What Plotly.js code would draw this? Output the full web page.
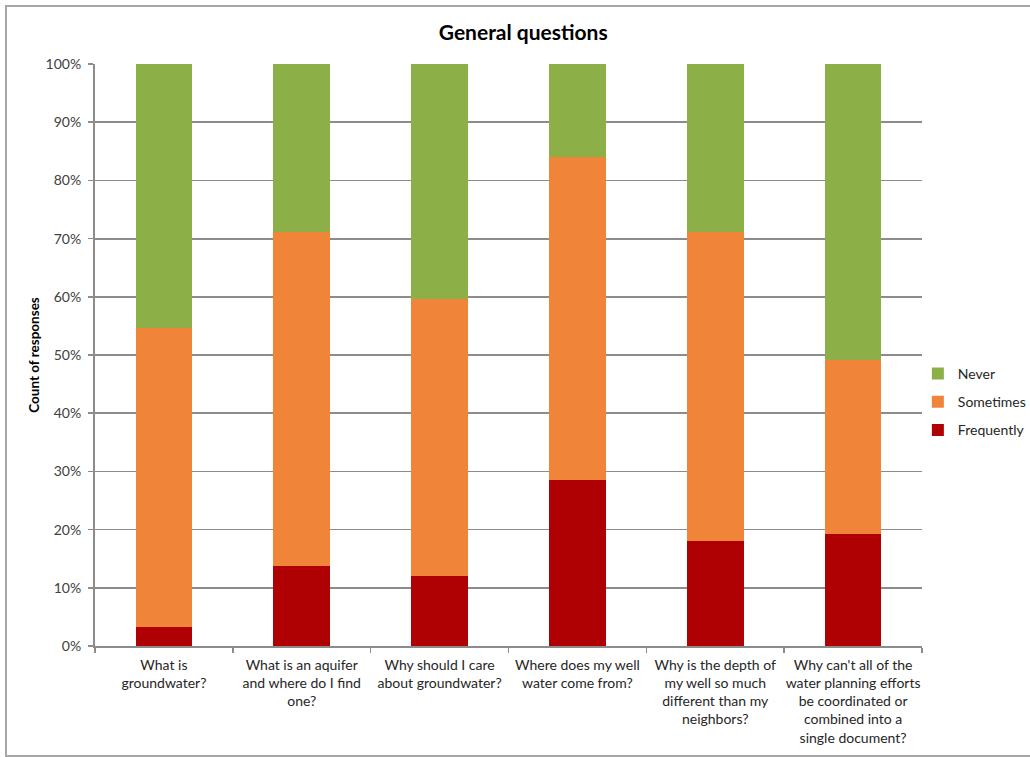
<!DOCTYPE html>
<html>
<head>
<meta charset="utf-8">
<script src="https://cdn.plot.ly/plotly-3.0.1.min.js"></script>
<style>
  html, body { margin: 0; padding: 0; background: #ffffff; }
  #wrap { position: relative; width: 1030px; height: 757px; }
  #chart { position: absolute; left: 0; top: 0; width: 1030px; height: 757px; }
  #frame { position: absolute; left: 5px; top: 5px; width: 1040px; height: 748px;
           border: 2px solid #a6a6a6; pointer-events: none; }
</style>
</head>
<body>
<div id="wrap">
  <div id="chart"></div>
  <div id="frame"></div>
</div>
<script>
// Survey questions (x categories), shown with manual line breaks
const questions = [
  "What is<br>groundwater?",
  "What is an aquifer<br>and where do I find<br>one?",
  "Why should I care<br>about groundwater?",
  "Where does my well<br>water come from?",
  "Why is the depth of<br>my well so much<br>different than my<br>neighbors?",
  "Why can't all of the<br>water planning efforts<br>be coordinated or<br>combined into a<br>single document?"
];

// Share of responses per answer (percent of each question's responses)
const frequently = [3.3, 13.7, 12.0, 28.5, 18.0, 19.2];
const sometimes  = [51.3, 57.4, 47.6, 55.6, 53.1, 29.9];
const never      = [45.4, 28.9, 40.4, 15.9, 28.9, 50.9];

const yTicks = [0, 10, 20, 30, 40, 50, 60, 70, 80, 90, 100];

const FONT = "Lato, 'Open Sans', sans-serif";

function series(name, values, color, group, rank) {
  return {
    type: "bar",
    name: name,
    x: questions,
    y: values,
    marker: { color: color, line: { width: 0 } },
    legendgroup: group,
    legendrank: rank,
    hoverinfo: "skip"
  };
}

// Stacked bottom to top; legend lists the top segment first
const data = [
  series("Frequently", frequently, "#AF0004", "g1", 3),
  series("Sometimes", sometimes, "#F0853A", "g2", 2),
  series("Never", never, "#8CB047", "g3", 1)
];

const layout = {
  width: 1030,
  height: 757,
  paper_bgcolor: "#ffffff",
  plot_bgcolor: "#ffffff",
  margin: { l: 95, r: 108, t: 64, b: 111, pad: 0, autoexpand: false },
  barmode: "stack",
  bargap: 0.59,
  showlegend: true,
  title: {
    text: "<b>General questions</b>",
    font: { family: FONT, size: 21, color: "#000000" },
    x: 0.508, xanchor: "center",
    y: 0.957, yanchor: "middle"
  },
  font: { family: FONT, size: 14, color: "#404040" },
  xaxis: {
    type: "category",
    tickson: "boundaries",
    ticks: "outside",
    ticklen: 5,
    tickwidth: 1.5,
    tickcolor: "#8c8c8c",
    showline: true,
    linecolor: "#8c8c8c",
    linewidth: 2,
    showgrid: false,
    tickfont: { family: FONT, size: 14, color: "#262626" },
    ticklabelstandoff: 5,
    tickangle: 0,
    automargin: false
  },
  yaxis: {
    range: [0, 100],
    tickvals: yTicks,
    ticktext: yTicks.map(v => v + "%"),
    ticks: "outside",
    ticklen: 5,
    tickwidth: 1.5,
    tickcolor: "#8c8c8c",
    showline: true,
    linecolor: "#8c8c8c",
    linewidth: 2,
    showgrid: true,
    gridcolor: "#8c8c8c",
    gridwidth: 1.8,
    zeroline: false,
    tickfont: { family: FONT, size: 14, color: "#404040" },
    ticklabelstandoff: 4,
    title: {
      text: "<b>Count of responses</b>",
      font: { family: FONT, size: 13.5, color: "#000000" },
      standoff: 3
    },
    automargin: false
  },
  legend: {
    x: 0.995, xanchor: "left",
    y: 0.495, yanchor: "top",
    traceorder: "grouped",
    tracegroupgap: 7,
    font: { family: FONT, size: 14, color: "#262626" },
    itemwidth: 30,
    bgcolor: "rgba(0,0,0,0)"
  }
};

Plotly.newPlot("chart", data, layout, { displayModeBar: false, staticPlot: true });
</script>
</body>
</html>
